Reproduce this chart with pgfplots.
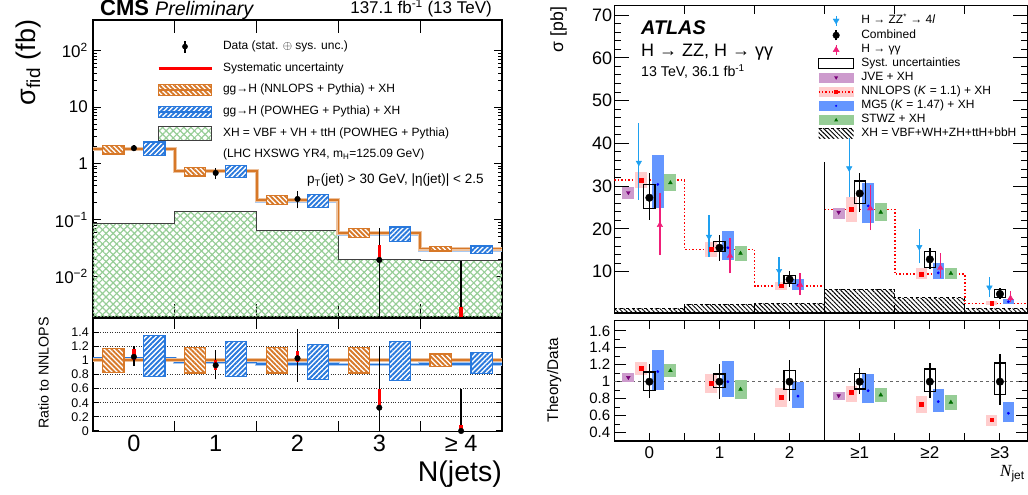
\documentclass[border=0pt]{standalone}
\usepackage{fontspec}
\setmainfont{Liberation Sans}
\newfontfamily\serifit{Liberation Serif}
\usepackage{pgfplots}
\usepackage{pgfplotstable}
\pgfplotsset{compat=1.18, /pgf/number format/assume math mode=true}
\usetikzlibrary{patterns,patterns.meta}

\newcommand\fs[1]{\fontsize{#1pt}{#1pt}\selectfont}
\newcommand\cbox[5]{\addplot[forget plot,#1] coordinates {(#2,#4) (#3,#4) (#3,#5) (#2,#5)} --cycle;}
\newcommand\vbar[4]{\addplot[forget plot,#1] coordinates {(#2,#3) (#2,#4)};}

\definecolor{cmsorange}{RGB}{215,120,40}
\definecolor{cmsblue}{RGB}{40,120,220}
\definecolor{xhgreen}{RGB}{150,205,150}
\definecolor{zzblue}{RGB}{30,160,240}
\definecolor{yypink}{RGB}{240,30,120}
\definecolor{jvebox}{RGB}{205,155,205}
\definecolor{jvemark}{RGB}{120,0,120}
\definecolor{nnlbox}{RGB}{255,205,205}
\definecolor{mg5box}{RGB}{100,150,255}
\definecolor{stwzbox}{RGB}{150,205,150}
\definecolor{stwzmark}{RGB}{0,110,0}

\tikzset{
 nnlhatch/.style={fill=white, postaction={pattern={Lines[angle=-45,distance=3.5pt,line width=1.9pt]}, pattern color=cmsorange}},
 powhatch/.style={fill=white, postaction={pattern={Lines[angle=45,distance=3.5pt,line width=1.9pt]}, pattern color=cmsblue}},
 xhhatch/.style={pattern={Lines[angle=45,distance=5pt,line width=1.2pt]}, pattern color=xhgreen, postaction={pattern={Lines[angle=-45,distance=5pt,line width=1.2pt]}, pattern color=xhgreen}},
 atlhatch/.style={pattern={Lines[angle=-45,distance=3.2pt,line width=1pt]}, pattern color=black},
}
\pgfplotsset{
 boxbars/.style 2 args={forget plot, draw=none, mark=none, error bars/y dir=plus, error bars/y explicit, error bars/error mark=none, error bars/error bar style={line width=#1, draw=#2}},
}

% ---------- ATLAS data ----------
\pgfplotstableread{
x y lo hi
0.35 35.5 26.8 44.7
1.35 18.2 13.5 23.2
2.35 10.2 6.6 13.5
3.35 34.2 27.5 41.2
4.35 15.8 12.0 20.1
5.35 6.3 4.1 8.8
}\atlZZ
\pgfplotstableread{
x y lo hi
0.65 20.9 13.9 28.3
1.65 13.7 9.6 18.0
2.65 6.9 4.5 9.6
3.65 24.8 19.7 30.3
4.65 10.9 8.45 14.3
5.65 3.8 2.9 5.6
}\atlYY
\pgfplotstableread{
x y lo hi
0.5 27.3 22.1 33.0
1.5 15.6 12.6 18.7
2.5 8.2 6.5 10.2
3.5 28.3 24.0 33.0
4.5 12.9 10.6 15.5
5.5 4.8 3.6 6.2
}\atlComb
\pgfplotstableread{
x y lo hi
0.38 31.4 29.5 33.4
1.38 15.2 13.5 17.0
2.38 6.7 5.7 7.65
3.38 24.6 21.7 27.5
4.38 9.45 8.2 10.8
5.38 2.6 2.2 3.1
}\atlNNL
\pgfplotstableread{
x y lo hi
0.62 30.4 24.8 37.4
1.62 15.6 12.7 19.5
2.62 6.8 5.7 8.2
3.62 25.4 21.3 30.8
4.62 9.75 8.2 12.0
5.62 3.0 2.5 3.6
}\atlMG
\pgfplotstableread{
x y lo hi
0.2 28.5 27.0 29.7
3.2 23.9 22.3 25.0
}\atlJVE
\pgfplotstableread{
x y lo hi
0.8 30.8 28.9 32.8
1.8 14.3 12.5 16.0
3.8 23.9 21.9 26.1
4.8 9.6 8.2 10.9
}\atlST
\pgfplotstableread{
x y lo hi
0.38 1.157 1.08 1.23
1.38 0.98 0.867 1.09
2.38 0.816 0.70 0.925
3.38 0.875 0.765 0.953
4.38 0.737 0.627 0.835
5.38 0.55 0.478 0.61
}\ratNNL
\pgfplotstableread{
x y lo hi
0.62 1.12 0.906 1.38
1.62 1.0 0.816 1.247
2.62 0.83 0.69 1.0
3.62 0.894 0.745 1.09
4.62 0.765 0.64 0.914
5.62 0.627 0.52 0.757
}\ratMG
\pgfplotstableread{
x y lo hi
0.2 1.05 1.0 1.10
3.2 0.835 0.785 0.88
}\ratJVE
\pgfplotstableread{
x y lo hi
0.8 1.13 1.05 1.21
1.8 0.91 0.80 1.02
3.8 0.843 0.765 0.92
4.8 0.757 0.67 0.847
}\ratST
\pgfplotstableread{
x y lo hi
0.5 1 0.81 1.21
1.5 1 0.80 1.21
2.5 1 0.776 1.255
3.5 1 0.855 1.16
4.5 1 0.81 1.22
5.5 1 0.73 1.325
}\ratComb

\begin{document}
\begin{tikzpicture}
% ================= CMS main =================
\begin{axis}[
 at={(93pt,178pt)}, anchor=south west, scale only axis,
 width=409pt, height=297pt,
 xmin=0, xmax=5, ymode=log, ymin=0.0019, ymax=350,
 xtick={1,2,3,4}, xticklabels={},
 ytick={0.01,0.1,1,10,100},
 yticklabels={10\textsuperscript{−2},10\textsuperscript{−1},1,10,10\textsuperscript{2}},
 xtick pos=both, ytick pos=both, tick align=inside,
 major tick length=8pt, minor tick length=4pt,
 xtick style={/pgfplots/major tick length=13pt},
 axis line style={line width=1.3pt}, tick style={black, line width=1pt},
 yticklabel style={font=\fs{17}, inner sep=0pt, xshift=-5pt},
 legend cell align=left,
 legend style={at={(0.1565,0.934)}, anchor=north west, draw=none, fill=none, inner sep=0pt, outer sep=0pt, row sep=7.7pt, column sep=10pt, font=\fs{12}, nodes={inner sep=0pt, text height=8.8pt, text depth=2.8pt}},
]
\addlegendimage{legend image code/.code={\path[draw=none,fill=none] (0pt,-7pt) rectangle (53pt,7pt); \draw[black,line width=1.2pt] (26.5pt,-6pt)--(26.5pt,6pt); \fill[black] (26.5pt,0pt) circle (2.6pt);}}
\addlegendentry{Data (stat. $\oplus$ sys. unc.)}
\addlegendimage{legend image code/.code={\path[draw=none,fill=none] (0pt,-7pt) rectangle (53pt,7pt); \draw[red,line width=3pt] (0pt,0pt)--(53pt,0pt);}}
\addlegendentry{Systematic uncertainty}
\addlegendimage{legend image code/.code={\path[draw=none,fill=none] (0pt,-7pt) rectangle (53pt,7pt); \draw[nnlhatch, draw=cmsorange, line width=1.2pt] (0pt,-5.5pt) rectangle (53pt,5.5pt); \draw[cmsorange,line width=1.8pt] (0pt,0pt)--(53pt,0pt);}}
\addlegendentry{gg→H (NNLOPS + Pythia) + XH}
\addlegendimage{legend image code/.code={\path[draw=none,fill=none] (0pt,-7pt) rectangle (53pt,7pt); \draw[powhatch, draw=cmsblue, line width=1.2pt] (0pt,-5.5pt) rectangle (53pt,5.5pt); \draw[cmsblue,line width=1.8pt] (0pt,0pt)--(53pt,0pt);}}
\addlegendentry{gg→H (POWHEG + Pythia) + XH}
\addlegendimage{legend image code/.code={\path[draw=none,fill=none] (0pt,-7pt) rectangle (53pt,7pt); \draw[xhhatch, draw=black!75, line width=1pt] (0pt,-7pt) rectangle (53pt,7pt);}}
\addlegendentry{XH = VBF + VH + ttH (POWHEG + Pythia)}
\addlegendimage{empty legend}
\addlegendentry{(LHC HXSWG YR4, m\textsubscript{H}=125.09 GeV)}

% XH green
\addplot[forget plot, draw=none, xhhatch] coordinates {(0,0.0001)(0,0.087)(1,0.087)(1,0.139)(2,0.139)(2,0.066)(3,0.066)(3,0.0199)(4,0.0199)(4,0.0187)(5,0.0187)(5,0.0001)} --cycle;
\addplot[forget plot, const plot, draw=black!75, line width=1pt] coordinates {(0,0.087)(1,0.139)(2,0.066)(3,0.0199)(4,0.0187)(5,0.0187)};
% lines
\addplot[forget plot, const plot, cmsblue!40, line width=3.5pt] coordinates {(0,1.833)(1,0.715)(2,0.217)(3,0.0555)(4,0.0295)(5,0.0295)};
\addplot[forget plot, const plot, cmsblue, line width=1.6pt] coordinates {(0,1.833)(1,0.715)(2,0.217)(3,0.0555)(4,0.0295)(5,0.0295)};
\addplot[forget plot, const plot, cmsorange!45, line width=4pt] coordinates {(0,1.78)(1,0.73)(2,0.228)(3,0.059)(4,0.031)(5,0.031)};
\addplot[forget plot, const plot, cmsorange, line width=1.8pt] coordinates {(0,1.78)(1,0.73)(2,0.228)(3,0.059)(4,0.031)(5,0.031)};
% boxes
\cbox{nnlhatch, draw=cmsorange, line width=1.2pt}{0.12}{0.38}{1.477}{2.083}
\cbox{nnlhatch, draw=cmsorange, line width=1.2pt}{1.12}{1.38}{0.599}{0.861}
\cbox{nnlhatch, draw=cmsorange, line width=1.2pt}{2.12}{2.38}{0.187}{0.269}
\cbox{nnlhatch, draw=cmsorange, line width=1.2pt}{3.12}{3.38}{0.0484}{0.0696}
\cbox{nnlhatch, draw=cmsorange, line width=1.2pt}{4.12}{4.38}{0.0282}{0.0338}
\cbox{powhatch, draw=cmsblue, line width=1.2pt}{0.62}{0.88}{1.371}{2.403}
\cbox{powhatch, draw=cmsblue, line width=1.2pt}{1.62}{1.88}{0.562}{0.923}
\cbox{powhatch, draw=cmsblue, line width=1.2pt}{2.62}{2.88}{0.166}{0.280}
\cbox{powhatch, draw=cmsblue, line width=1.2pt}{3.62}{3.88}{0.0419}{0.0746}
\cbox{powhatch, draw=cmsblue, line width=1.2pt}{4.62}{4.88}{0.0253}{0.0344}
% data
\vbar{black, line width=1.3pt}{0.5}{1.64}{2.15}
\vbar{black, line width=1.3pt}{1.5}{0.53}{0.84}
\vbar{black, line width=1.3pt}{2.5}{0.16}{0.33}
\vbar{black, line width=1.3pt}{3.5}{0.0001}{0.071}
\vbar{black, line width=1.3pt}{4.5}{0.0001}{0.0186}
\vbar{red, line width=3.5pt}{0.5}{1.78}{2.05}
\vbar{red, line width=3.5pt}{1.5}{0.635}{0.737}
\vbar{red, line width=3.5pt}{2.5}{0.223}{0.258}
\vbar{red, line width=3.5pt}{3.5}{0.020}{0.0356}
\vbar{red, line width=3.5pt}{4.5}{0.0001}{0.0028}
\addplot[forget plot, only marks, mark=*, mark size=2.8pt, black] coordinates {(0.5,1.87)(1.5,0.68)(2.5,0.235)(3.5,0.0195)};
\end{axis}

% ================= CMS ratio =================
\begin{axis}[
 at={(93pt,63.3pt)}, anchor=south west, scale only axis,
 width=409pt, height=113.7pt,
 xmin=0, xmax=5, ymin=-0.01, ymax=1.6,
 xtick={1,2,3,4}, xticklabels={},
 extra x ticks={0.5,1.5,2.5,3.5,4.5}, extra x tick labels={0,1,2,3,≥ 4},
 extra x tick style={major tick length=0pt},
 xticklabel style={font=\fs{23.5}, anchor=base, yshift=-20pt},
 ytick={0,0.2,0.4,0.6,0.8,1,1.2,1.4},
 yticklabel style={font=\fs{12.5}, inner sep=0pt, xshift=-4pt},
 ymajorgrids, grid style={dotted, black!80, line width=0.9pt},
 xtick pos=both, ytick pos=both, tick align=inside,
 major tick length=11pt, ytick style={/pgfplots/major tick length=6pt},
 axis line style={line width=1.3pt}, tick style={black, line width=1pt},
]
\addplot[forget plot, const plot, cmsblue!40, line width=3.5pt] coordinates {(0,1.03)(1,0.98)(2,0.95)(3,0.94)(4,0.95)(5,0.95)};
\addplot[forget plot, const plot, cmsblue, line width=1.6pt] coordinates {(0,1.03)(1,0.98)(2,0.95)(3,0.94)(4,0.95)(5,0.95)};
\addplot[forget plot, cmsorange!45, line width=4pt] coordinates {(0,1)(5,1)};
\addplot[forget plot, cmsorange, line width=1.8pt] coordinates {(0,1)(5,1)};
\cbox{nnlhatch, draw=cmsorange, line width=1.2pt}{0.12}{0.38}{0.83}{1.17}
\cbox{nnlhatch, draw=cmsorange, line width=1.2pt}{1.12}{1.38}{0.82}{1.18}
\cbox{nnlhatch, draw=cmsorange, line width=1.2pt}{2.12}{2.38}{0.82}{1.18}
\cbox{nnlhatch, draw=cmsorange, line width=1.2pt}{3.12}{3.38}{0.82}{1.18}
\cbox{nnlhatch, draw=cmsorange, line width=1.2pt}{4.12}{4.38}{0.91}{1.09}
\cbox{powhatch, draw=cmsblue, line width=1.2pt}{0.62}{0.88}{0.77}{1.35}
\cbox{powhatch, draw=cmsblue, line width=1.2pt}{1.62}{1.88}{0.77}{1.265}
\cbox{powhatch, draw=cmsblue, line width=1.2pt}{2.62}{2.88}{0.73}{1.23}
\cbox{powhatch, draw=cmsblue, line width=1.2pt}{3.62}{3.88}{0.71}{1.265}
\cbox{powhatch, draw=cmsblue, line width=1.2pt}{4.62}{4.88}{0.816}{1.11}
\vbar{black, line width=1.3pt}{0.5}{0.92}{1.21}
\vbar{black, line width=1.3pt}{1.5}{0.73}{1.15}
\vbar{black, line width=1.3pt}{2.5}{0.70}{1.45}
\vbar{black, line width=1.3pt}{3.5}{0}{1.2}
\vbar{black, line width=1.3pt}{4.5}{0}{0.6}
\vbar{red, line width=3.5pt}{0.5}{1.00}{1.16}
\vbar{red, line width=3.5pt}{1.5}{0.87}{1.01}
\vbar{red, line width=3.5pt}{2.5}{0.98}{1.13}
\vbar{red, line width=3.5pt}{3.5}{0.34}{0.60}
\vbar{red, line width=3.5pt}{4.5}{0}{0.09}
\addplot[forget plot, only marks, mark=*, mark size=2.8pt, black] coordinates {(0.5,1.05)(1.5,0.93)(2.5,1.03)(3.5,0.33)(4.5,0)};
\end{axis}

% ================= ATLAS main =================
\begin{axis}[
 at={(614.3pt,182pt)}, anchor=south west, scale only axis,
 width=413.7pt, height=307.3pt,
 xmin=0, xmax=5.9, ymin=0.35, ymax=72.2,
 xtick={1,2,3,4,5}, xticklabels={},
 ytick={10,20,30,40,50,60,70}, minor y tick num=4,
 xtick pos=both, ytick pos=both, tick align=inside,
 major tick length=15pt, minor tick length=7pt,
 xtick style={/pgfplots/major tick length=8pt},
 axis line style={line width=1.2pt}, tick style={black, line width=1pt},
 yticklabel style={font=\fs{18}, inner sep=0pt, xshift=-2pt},
 legend cell align=left,
 legend style={at={(0.4924,0.9685)}, anchor=north west, draw=none, fill=none, inner sep=0pt, outer sep=0pt, row sep=3pt, column sep=7pt, font=\fs{12}, nodes={inner sep=0pt, text height=8.5pt, text depth=2.5pt}},
]
\addlegendimage{legend image code/.code={\path[draw=none,fill=none] (0pt,-5pt) rectangle (35pt,5pt); \draw[zzblue,line width=1.2pt] (17.5pt,-5pt)--(17.5pt,5pt); \fill[zzblue] (14.5pt,2pt)--(20.5pt,2pt)--(17.5pt,-3pt)--cycle;}}
\addlegendentry{H → ZZ\textsuperscript{*} → 4\textit{l}}
\addlegendimage{legend image code/.code={\path[draw=none,fill=none] (0pt,-5pt) rectangle (35pt,5pt); \draw[black,line width=1.4pt] (17.5pt,-5pt)--(17.5pt,5pt); \fill[black] (17.5pt,0pt) circle (3.3pt);}}
\addlegendentry{Combined}
\addlegendimage{legend image code/.code={\path[draw=none,fill=none] (0pt,-5pt) rectangle (35pt,5pt); \draw[yypink,line width=1.2pt] (17.5pt,-5pt)--(17.5pt,5pt); \fill[yypink] (14.5pt,-2pt)--(20.5pt,-2pt)--(17.5pt,3pt)--cycle;}}
\addlegendentry{H → γγ}
\addlegendimage{legend image code/.code={\draw[black,line width=1.2pt,fill=white] (0pt,-5pt) rectangle (35pt,5pt);}}
\addlegendentry{Syst. uncertainties}
\addlegendimage{legend image code/.code={\fill[jvebox,draw=none] (0pt,-5pt) rectangle (35pt,5pt); \fill[jvemark,draw=none] (15.5pt,1.5pt)--(19.5pt,1.5pt)--(17.5pt,-2pt)--cycle;}}
\addlegendentry{JVE + XH}
\addlegendimage{legend image code/.code={\fill[nnlbox,draw=none] (0pt,-5pt) rectangle (35pt,5pt); \draw[red,dotted,line width=1.3pt] (0pt,0pt)--(35pt,0pt); \fill[red,draw=none] (15.5pt,-2pt) rectangle (19.5pt,2pt);}}
\addlegendentry{NNLOPS (\textit{K} = 1.1) + XH}
\addlegendimage{legend image code/.code={\fill[mg5box,draw=none] (0pt,-5pt) rectangle (35pt,5pt); \fill[blue,draw=none] (17.5pt,0pt) circle (1.2pt);}}
\addlegendentry{MG5 (\textit{K} = 1.47) + XH}
\addlegendimage{legend image code/.code={\fill[stwzbox,draw=none] (0pt,-5pt) rectangle (35pt,5pt); \fill[stwzmark,draw=none] (15.5pt,-1.5pt)--(19.5pt,-1.5pt)--(17.5pt,2pt)--cycle;}}
\addlegendentry{STWZ + XH}
\addlegendimage{legend image code/.code={\path[draw=none,atlhatch] (0pt,-5pt) rectangle (35pt,5pt); \draw[black,dashed,line width=1pt] (0pt,5pt)--(35pt,5pt);}}
\addlegendentry{XH = VBF+WH+ZH+ttH+bbH}

\addplot[forget plot, const plot, draw=black, dashed, line width=1pt, atlhatch] coordinates {(0,1.45)(1,2.4)(2,2.6)(3,5.95)(4,3.9)(5,1.45)(6,1.45)} \closedcycle;
\addplot[forget plot, const plot, red, dotted, line width=1.5pt] coordinates {(0,31.4)(1,15.2)(2,6.7)(3,24.6)(4,9.45)(5,2.6)(6,2.6)};
\addplot[forget plot, black, line width=1.2pt] coordinates {(3,0)(3,35.7)};
% model boxes
\addplot[boxbars={12pt}{jvebox}] table[x=x, y=lo, y error plus expr=\thisrow{hi}-\thisrow{lo}] {\atlJVE};
\addplot[boxbars={11.5pt}{nnlbox}] table[x=x, y=lo, y error plus expr=\thisrow{hi}-\thisrow{lo}] {\atlNNL};
\addplot[boxbars={11.5pt}{mg5box}] table[x=x, y=lo, y error plus expr=\thisrow{hi}-\thisrow{lo}] {\atlMG};
\addplot[boxbars={12pt}{stwzbox}] table[x=x, y=lo, y error plus expr=\thisrow{hi}-\thisrow{lo}] {\atlST};
% syst boxes
\cbox{draw=black, line width=1.2pt}{0.42}{0.58}{24.8}{30.4}
\cbox{draw=black, line width=1.2pt}{1.42}{1.58}{14.7}{17.0}
\cbox{draw=black, line width=1.2pt}{2.42}{2.58}{7.3}{9.2}
\cbox{draw=black, line width=1.2pt}{3.42}{3.58}{26.0}{31.2}
\cbox{draw=black, line width=1.2pt}{4.42}{4.58}{11.0}{14.7}
\cbox{draw=black, line width=1.2pt}{5.42}{5.58}{3.9}{5.8}
% model markers
\addplot[forget plot, only marks, mark=triangle*, mark size=2.2pt, jvemark, mark options={rotate=180}] table[x=x,y=y] {\atlJVE};
\addplot[forget plot, only marks, mark=square*, mark size=1.8pt, red] table[x=x,y=y] {\atlNNL};
\addplot[forget plot, only marks, mark=*, mark size=1.2pt, blue] table[x=x,y=y] {\atlMG};
\addplot[forget plot, only marks, mark=triangle*, mark size=2.2pt, stwzmark] table[x=x,y=y] {\atlST};
% data error lines
\addplot[boxbars={1.3pt}{zzblue}] table[x=x, y=lo, y error plus expr=\thisrow{hi}-\thisrow{lo}] {\atlZZ};
\addplot[boxbars={1.3pt}{yypink}] table[x=x, y=lo, y error plus expr=\thisrow{hi}-\thisrow{lo}] {\atlYY};
\addplot[boxbars={1.5pt}{black}] table[x=x, y=lo, y error plus expr=\thisrow{hi}-\thisrow{lo}] {\atlComb};
\addplot[forget plot, only marks, mark=triangle*, mark size=3.2pt, zzblue, mark options={rotate=180}] table[x=x,y=y] {\atlZZ};
\addplot[forget plot, only marks, mark=triangle*, mark size=3.2pt, yypink] table[x=x,y=y] {\atlYY};
\addplot[forget plot, only marks, mark=*, mark size=3.8pt, black] table[x=x,y=y] {\atlComb};
\end{axis}

% ================= ATLAS ratio =================
\begin{axis}[
 at={(614.3pt,54pt)}, anchor=south west, scale only axis,
 width=413.7pt, height=120.3pt,
 xmin=0, xmax=5.9, ymin=0.3, ymax=1.72,
 xtick={1,2,3,4,5}, xticklabels={},
 extra x ticks={0.5,1.5,2.5,3.5,4.5,5.5}, extra x tick labels={0,1,2,≥1,≥2,≥3},
 extra x tick style={major tick length=0pt},
 xticklabel style={font=\fs{17}, anchor=base, yshift=-18pt},
 ytick={0.4,0.6,0.8,1,1.2,1.4,1.6}, minor y tick num=1,
 yticklabel style={font=\fs{15}, inner sep=0pt, xshift=-4pt},
 xtick pos=both, ytick pos=both, tick align=inside,
 major tick length=12pt, minor tick length=6pt,
 xtick style={/pgfplots/major tick length=8pt},
 axis line style={line width=1.2pt}, tick style={black, line width=1pt},
]
\addplot[forget plot, black!60, dashed, line width=1.2pt] coordinates {(0,1)(6,1)};
\addplot[forget plot, black, line width=1.2pt] coordinates {(3,0.3)(3,1.72)};
\addplot[boxbars={12pt}{jvebox}] table[x=x, y=lo, y error plus expr=\thisrow{hi}-\thisrow{lo}] {\ratJVE};
\addplot[boxbars={11.5pt}{nnlbox}] table[x=x, y=lo, y error plus expr=\thisrow{hi}-\thisrow{lo}] {\ratNNL};
\addplot[boxbars={11.5pt}{mg5box}] table[x=x, y=lo, y error plus expr=\thisrow{hi}-\thisrow{lo}] {\ratMG};
\addplot[boxbars={12pt}{stwzbox}] table[x=x, y=lo, y error plus expr=\thisrow{hi}-\thisrow{lo}] {\ratST};
\cbox{draw=black, line width=1.2pt}{0.42}{0.58}{0.90}{1.114}
\cbox{draw=black, line width=1.2pt}{1.42}{1.58}{0.933}{1.09}
\cbox{draw=black, line width=1.2pt}{2.42}{2.58}{0.906}{1.13}
\cbox{draw=black, line width=1.2pt}{3.42}{3.58}{0.914}{1.10}
\cbox{draw=black, line width=1.2pt}{4.42}{4.58}{0.886}{1.15}
\cbox{draw=black, line width=1.2pt}{5.42}{5.58}{0.847}{1.22}
\addplot[forget plot, only marks, mark=triangle*, mark size=2.2pt, jvemark, mark options={rotate=180}] table[x=x,y=y] {\ratJVE};
\addplot[forget plot, only marks, mark=square*, mark size=1.8pt, red] table[x=x,y=y] {\ratNNL};
\addplot[forget plot, only marks, mark=*, mark size=1.2pt, blue] table[x=x,y=y] {\ratMG};
\addplot[forget plot, only marks, mark=triangle*, mark size=2.2pt, stwzmark] table[x=x,y=y] {\ratST};
\addplot[boxbars={1.5pt}{black}] table[x=x, y=lo, y error plus expr=\thisrow{hi}-\thisrow{lo}] {\ratComb};
\addplot[forget plot, only marks, mark=*, mark size=3.8pt, black] table[x=x,y=y] {\ratComb};
\end{axis}

% ================= texts =================
\node[anchor=base west, inner sep=0pt] at (100pt,479pt) {\fs{22}\bfseries CMS \fs{19.6}\mdseries\itshape Preliminary};
\node[anchor=base east, inner sep=0pt] at (492pt,481pt) {\fs{17}137.1 fb\textsuperscript{-1} (13 TeV)};
\node[rotate=90, anchor=base, inner sep=0pt] at (35pt,432.5pt) {\fs{27}σ\textsubscript{fid} (fb)};
\node[anchor=base west, inner sep=0pt] at (307pt,311pt) {\fs{13.5}p\textsubscript{T}(jet) > 30 GeV, |η(jet)| < 2.5};
\node[rotate=90, anchor=base, inner sep=0pt] at (48.5pt,122pt) {\fs{14.2}Ratio to NNLOPS};
\node[anchor=base east, inner sep=0pt] at (502pt,13pt) {\fs{28.5}N(jets)};

\node[anchor=base west, inner sep=0pt] at (641pt,460pt) {\fs{19.8}\bfseries\itshape ATLAS};
\node[anchor=base west, inner sep=0pt] at (641pt,438pt) {\fs{18}H → ZZ, H → γγ};
\node[anchor=base west, inner sep=0pt] at (641pt,418pt) {\fs{14.2}13 TeV, 36.1 fb\textsuperscript{-1}};
\node[rotate=90, anchor=base, inner sep=0pt] at (563pt,465.5pt) {\fs{17.6}σ [pb]};
\node[rotate=90, anchor=base, inner sep=0pt] at (558pt,115pt) {\fs{15.3}Theory/Data};
\node[anchor=base west, inner sep=0pt] at (1000pt,18.3pt) {\fs{17}{\serifit\itshape N}\textsubscript{jet}};

\pgfresetboundingbox
\path[use as bounding box] (0pt,0pt) rectangle (1028pt,495pt);
\end{tikzpicture}
\end{document}
